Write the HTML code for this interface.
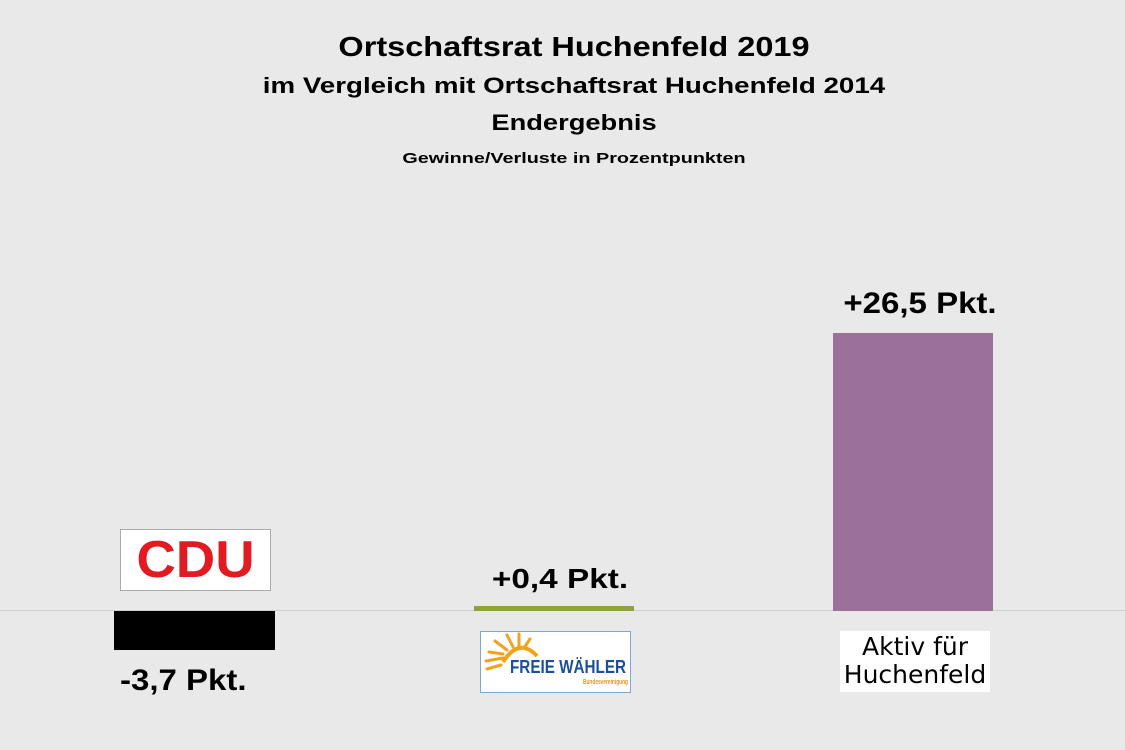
<!DOCTYPE html>
<html><head><meta charset="utf-8"><style>
body{margin:0;width:1125px;height:750px;background:#e9e9e9;position:relative;overflow:hidden;font-family:"Liberation Sans",Arial,sans-serif;font-weight:bold;color:#000}
.a{position:absolute}
.t{position:absolute;left:74px;width:1000px;text-align:center;white-space:nowrap}
</style></head><body>
<div class="t" style="top:31px;font-size:28px;transform:scaleX(1.16)">Ortschaftsrat Huchenfeld 2019</div>
<div class="t" style="top:73px;font-size:22px;transform:scaleX(1.26)">im Vergleich mit Ortschaftsrat Huchenfeld 2014</div>
<div class="t" style="top:110px;font-size:22px;transform:scaleX(1.24)">Endergebnis</div>
<div class="t" style="top:150px;font-size:15px;transform:scaleX(1.32)">Gewinne/Verluste in Prozentpunkten</div>
<div class="a" style="left:0;top:610px;width:1125px;height:1px;background:#cfcfcf"></div>
<div class="a" style="left:114px;top:611px;width:161px;height:39px;background:#000"></div>
<div class="a" style="left:474px;top:606px;width:160px;height:5px;background:#8fa33b"></div>
<div class="a" style="left:833px;top:333px;width:160px;height:278px;background:#9c7199"></div>
<div class="a" style="left:820px;top:287px;width:200px;text-align:center;font-size:30px;transform:scaleX(1.1)">+26,5 Pkt.</div>
<div class="a" style="left:460px;top:563px;width:200px;text-align:center;font-size:28px;transform:scaleX(1.19)">+0,4 Pkt.</div>
<div class="a" style="left:120px;top:664px;font-size:30px;transform:scaleX(1.1);transform-origin:left">-3,7 Pkt.</div>
<div class="a" style="left:120px;top:529px;width:149px;height:60px;background:#fff;border:1px solid #aaa;overflow:hidden">
<div style="position:absolute;left:0;top:4px;width:149px;text-align:center;font-size:52px;line-height:52px;font-weight:900;color:#e21b23;transform:scaleX(1.05)">CDU</div></div>
<div class="a" style="left:480px;top:631px;width:149px;height:60px;background:#fff;border:1px solid #7fa6d6">
<svg width="149" height="60" style="position:absolute;left:0;top:0">
<g stroke="#f2a21c" stroke-width="3" stroke-linecap="round">
<line x1="5" y1="29" x2="22" y2="26"/><line x1="8" y1="20" x2="22" y2="22"/><line x1="14" y1="9" x2="26" y2="18"/><line x1="26" y1="3" x2="32" y2="15"/><line x1="38" y1="2" x2="38" y2="14"/><line x1="49" y1="7" x2="43" y2="16"/><line x1="6" y1="37" x2="20" y2="33"/>
</g>
<path d="M22 30 Q38 5 56 24" stroke="#f2a21c" stroke-width="4" fill="none"/>
<text x="29" y="41" font-family="Liberation Sans" font-weight="bold" font-size="18" fill="#1a4f9c" textLength="116" lengthAdjust="spacingAndGlyphs">FREIE WÄHLER</text>
<text x="102" y="52" font-family="Liberation Sans" font-weight="bold" font-size="7" fill="#e2961a" textLength="45" lengthAdjust="spacingAndGlyphs">Bundesvereinigung</text>
</svg></div>
<div class="a" style="left:840px;top:631px;width:150px;height:61px;background:#fff;text-align:center;font-weight:normal;font-family:'DejaVu Sans',sans-serif;font-size:25px;line-height:28px;padding-top:2px;box-sizing:border-box">Aktiv für<br>Huchenfeld</div>
</body></html>
